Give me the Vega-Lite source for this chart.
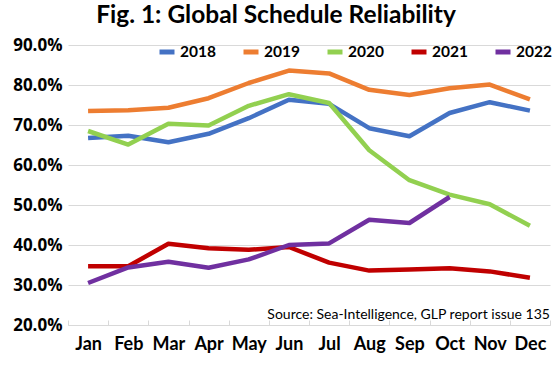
{
  "$schema": "https://vega.github.io/schema/vega-lite/v6.json",
  "width": 482,
  "height": 280,
  "autosize": {"type": "none"},
  "padding": {"top": 45, "left": 68, "right": 4, "bottom": 52},
  "background": "white",
  "config": {
    "font": "Lato",
    "view": {"stroke": null}
  },
  "title": {
    "text": "Fig. 1: Global Schedule Reliability",
    "fontSize": 24.5,
    "fontWeight": "bold",
    "font": "Lato",
    "color": "#000000",
    "anchor": "middle",
    "dx": -33,
    "offset": 8
  },
  "data": {
    "values": [
      {"month": "Jan", "year": "2018", "value": 0.6675},
      {"month": "Feb", "year": "2018", "value": 0.673},
      {"month": "Mar", "year": "2018", "value": 0.657},
      {"month": "Apr", "year": "2018", "value": 0.678},
      {"month": "May", "year": "2018", "value": 0.717},
      {"month": "Jun", "year": "2018", "value": 0.763},
      {"month": "Jul", "year": "2018", "value": 0.753},
      {"month": "Aug", "year": "2018", "value": 0.692},
      {"month": "Sep", "year": "2018", "value": 0.672},
      {"month": "Oct", "year": "2018", "value": 0.730},
      {"month": "Nov", "year": "2018", "value": 0.757},
      {"month": "Dec", "year": "2018", "value": 0.736},
      {"month": "Jan", "year": "2019", "value": 0.735},
      {"month": "Feb", "year": "2019", "value": 0.737},
      {"month": "Mar", "year": "2019", "value": 0.743},
      {"month": "Apr", "year": "2019", "value": 0.767},
      {"month": "May", "year": "2019", "value": 0.805},
      {"month": "Jun", "year": "2019", "value": 0.836},
      {"month": "Jul", "year": "2019", "value": 0.829},
      {"month": "Aug", "year": "2019", "value": 0.788},
      {"month": "Sep", "year": "2019", "value": 0.775},
      {"month": "Oct", "year": "2019", "value": 0.792},
      {"month": "Nov", "year": "2019", "value": 0.801},
      {"month": "Dec", "year": "2019", "value": 0.764},
      {"month": "Jan", "year": "2020", "value": 0.685},
      {"month": "Feb", "year": "2020", "value": 0.651},
      {"month": "Mar", "year": "2020", "value": 0.703},
      {"month": "Apr", "year": "2020", "value": 0.699},
      {"month": "May", "year": "2020", "value": 0.748},
      {"month": "Jun", "year": "2020", "value": 0.777},
      {"month": "Jul", "year": "2020", "value": 0.755},
      {"month": "Aug", "year": "2020", "value": 0.637},
      {"month": "Sep", "year": "2020", "value": 0.562},
      {"month": "Oct", "year": "2020", "value": 0.526},
      {"month": "Nov", "year": "2020", "value": 0.502},
      {"month": "Dec", "year": "2020", "value": 0.448},
      {"month": "Jan", "year": "2021", "value": 0.347},
      {"month": "Feb", "year": "2021", "value": 0.347},
      {"month": "Mar", "year": "2021", "value": 0.403},
      {"month": "Apr", "year": "2021", "value": 0.392},
      {"month": "May", "year": "2021", "value": 0.388},
      {"month": "Jun", "year": "2021", "value": 0.395},
      {"month": "Jul", "year": "2021", "value": 0.356},
      {"month": "Aug", "year": "2021", "value": 0.336},
      {"month": "Sep", "year": "2021", "value": 0.339},
      {"month": "Oct", "year": "2021", "value": 0.342},
      {"month": "Nov", "year": "2021", "value": 0.334},
      {"month": "Dec", "year": "2021", "value": 0.318},
      {"month": "Jan", "year": "2022", "value": 0.305},
      {"month": "Feb", "year": "2022", "value": 0.344},
      {"month": "Mar", "year": "2022", "value": 0.358},
      {"month": "Apr", "year": "2022", "value": 0.343},
      {"month": "May", "year": "2022", "value": 0.364},
      {"month": "Jun", "year": "2022", "value": 0.400},
      {"month": "Jul", "year": "2022", "value": 0.404},
      {"month": "Aug", "year": "2022", "value": 0.463},
      {"month": "Sep", "year": "2022", "value": 0.455},
      {"month": "Oct", "year": "2022", "value": 0.520}
    ]
  },
  "layer": [
    {
      "mark": {"type": "line", "strokeWidth": 4.5, "strokeCap": "butt", "strokeJoin": "round"},
      "encoding": {
        "x": {
          "field": "month",
          "type": "ordinal",
          "sort": ["Jan","Feb","Mar","Apr","May","Jun","Jul","Aug","Sep","Oct","Nov","Dec"],
          "scale": {"type": "band", "paddingInner": 0, "paddingOuter": 0},
          "axis": {
            "title": null,
            "labelAngle": 0,
            "labelFontSize": 18,
            "labelFontWeight": "bold",
            "labelColor": "#000000",
            "labelPadding": 15,
            "domainColor": "#d9d9d9",
            "tickColor": "#d9d9d9",
            "tickBand": "extent",
            "tickSize": -5,
            "grid": false
          }
        },
        "y": {
          "field": "value",
          "type": "quantitative",
          "scale": {"domain": [0.2, 0.9], "nice": false, "zero": false},
          "axis": {
            "title": null,
            "values": [0.2,0.3,0.4,0.5,0.6,0.7,0.8,0.9],
            "format": ".1%",
            "labelOverlap": false,
            "labelFont": "Open Sans",
            "labelFontSize": 17,
            "labelFontWeight": "bold",
            "labelColor": "#000000",
            "labelPadding": 6,
            "domain": false,
            "ticks": false,
            "gridColor": "#d9d9d9",
            "gridWidth": 1
          }
        },
        "color": {
          "field": "year",
          "type": "nominal",
          "scale": {
            "domain": ["2018","2019","2020","2021","2022"],
            "range": ["#4472C4","#ED7D31","#92D050","#C00000","#7030A0"]
          },
          "legend": {
            "title": null,
            "orient": "none",
            "legendX": 89,
            "legendY": -3,
            "direction": "horizontal",
            "columns": 5,
            "columnPadding": 17,
            "symbolType": "stroke",
            "symbolSize": 225,
            "symbolStrokeWidth": 5,
            "labelFontSize": 15.5,
            "labelFontWeight": "bold",
            "labelColor": "#000000",
            "labelOffset": 3,
            "labelLimit": 200
          }
        }
      }
    },
    {
      "data": {"values": [{"note": "Source: Sea-Intelligence, GLP report issue 135"}]},
      "mark": {"type": "text", "align": "right", "baseline": "middle", "fontSize": 14, "font": "Lato", "color": "#000000", "dx": 20},
      "encoding": {
        "x": {
          "datum": "Dec",
          "type": "ordinal",
          "axis": {
            "title": null,
            "labelAngle": 0,
            "labelFontSize": 18,
            "labelFontWeight": "bold",
            "labelColor": "#000000",
            "labelPadding": 15,
            "domainColor": "#d9d9d9",
            "tickColor": "#d9d9d9",
            "tickBand": "extent",
            "tickSize": -5,
            "grid": false
          }
        },
        "y": {
          "datum": 0.226,
          "type": "quantitative",
          "axis": {
            "title": null,
            "values": [0.2,0.3,0.4,0.5,0.6,0.7,0.8,0.9],
            "format": ".1%",
            "labelOverlap": false,
            "labelFont": "Open Sans",
            "labelFontSize": 17,
            "labelFontWeight": "bold",
            "labelColor": "#000000",
            "labelPadding": 6,
            "domain": false,
            "ticks": false,
            "gridColor": "#d9d9d9",
            "gridWidth": 1
          }
        },
        "text": {"field": "note"}
      }
    }
  ]
}
